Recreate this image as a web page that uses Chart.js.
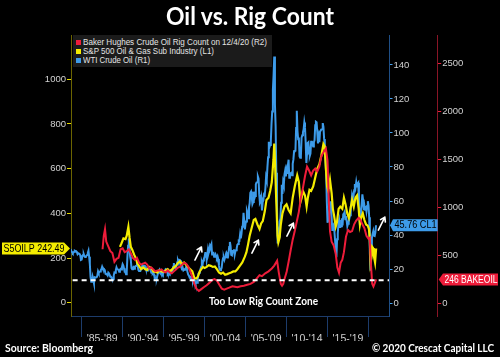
<!DOCTYPE html>
<html><head><meta charset="utf-8">
<script src="https://cdn.jsdelivr.net/npm/chart.js@4.4.0/dist/chart.umd.min.js"></script>
<style>
html,body{margin:0;padding:0;background:#000;}
#wrap{position:relative;width:500px;height:357px;overflow:hidden;background:#000;}
#c{position:absolute;left:0;top:0;}
.t{position:absolute;white-space:nowrap;display:inline-block;transform-origin:0 50%;}
#title{left:0;top:4px;width:500px;text-align:center;font:bold 24px Lato,sans-serif;line-height:24px;color:#fff;transform-origin:50% 50%;}
.foot{font:bold 11px Lato,sans-serif;line-height:11px;color:#fff;top:342px;}
#zone{font:bold 11px Lato,sans-serif;line-height:11px;color:#fff;top:295px;left:209px;}
#legend{position:absolute;left:73px;top:35px;width:199px;height:32px;background:#1b1b1b;}
.lg{font:8.5px "Liberation Sans",Arial,sans-serif;line-height:9px;color:#e4e4e4;left:83px;}
.sq{position:absolute;left:76px;width:5px;height:5px;}
</style></head>
<body>
<div id="wrap">
<canvas id="c" width="500" height="357"></canvas>
<div id="legend"></div>
<div class="sq" style="top:40px;background:#ee1c3a"></div>
<div class="sq" style="top:49px;background:#f4ec00"></div>
<div class="sq" style="top:58px;background:#3d9be9"></div>
<span class="t lg" id="lg1" style="top:38px">Baker Hughes Crude Oil Rig Count on 12/4/20 (R2)</span>
<span class="t lg" id="lg2" style="top:47px">S&amp;P 500 Oil &amp; Gas Sub Industry (L1)</span>
<span class="t lg" id="lg3" style="top:56px">WTI Crude Oil (R1)</span>
<div class="t" id="title">Oil vs. Rig Count</div>
<span class="t" id="zone">Too Low Rig Count Zone</span>
<span class="t foot" id="src" style="left:5px">Source: Bloomberg</span>
<span class="t foot" id="copy" style="left:372px">© 2020 Crescat Capital LLC</span>
</div>
<script>
// ---------------- DATA ----------------
// WTI crude oil (R1), monthly, starting Sep 1983
const wtiStartYear = 1983, wtiStartMonth = 8; // 0-based month (Sep)
const wti = [
31.7,30.4,29.9,29.3,
29.7,30.1,30.8,30.6,30.5,30.0,28.8,29.3,29.3,28.8,28.1,25.4,
25.6,27.3,28.2,28.8,27.6,27.1,27.3,27.8,28.3,29.5,30.8,27.2,
22.9,15.4,12.6,12.8,15.4,13.5,11.6,15.1,14.9,14.9,15.2,16.1,
18.7,17.7,18.3,18.6,19.4,20.0,21.4,20.3,19.5,19.8,18.9,17.2,
17.1,16.8,16.2,17.9,17.4,16.5,15.5,15.5,14.5,13.8,14.0,16.3,
18.0,17.8,19.4,21.0,20.0,20.0,19.6,18.4,19.6,20.1,19.8,21.1,
22.9,22.1,20.4,18.4,18.2,16.9,18.6,27.2,33.7,38.0,32.3,27.3,
25.2,20.5,19.9,20.8,21.2,20.2,21.4,21.7,21.9,23.2,22.5,19.5,
18.8,19.0,18.9,20.2,20.9,22.4,21.8,21.4,21.9,21.7,20.3,19.4,
19.1,20.1,20.3,20.3,19.9,19.1,17.9,18.0,17.5,18.1,16.7,14.5,
15.0,14.8,14.7,16.4,17.9,19.1,19.7,18.4,17.5,17.7,18.1,17.2,
18.0,18.5,18.6,19.9,19.7,18.4,17.3,17.9,18.0,17.4,18.0,19.0,
18.9,19.1,21.3,23.5,21.2,20.4,21.3,22.0,24.0,24.9,23.7,25.4,
25.2,22.2,21.0,19.7,20.8,19.2,19.6,19.9,19.8,21.3,20.2,18.3,
16.7,16.1,15.0,15.4,14.9,13.7,14.1,13.4,15.0,14.4,12.9,11.3,
12.5,12.0,14.7,17.3,17.8,17.9,20.1,21.3,23.9,22.6,25.0,26.1,
27.2,29.4,29.9,25.7,28.8,31.8,29.7,31.3,33.9,33.1,34.4,28.5,
29.6,29.6,27.2,27.4,28.6,27.6,26.5,27.5,25.9,22.2,19.7,19.3,
19.7,20.7,24.4,26.3,27.0,25.5,26.9,28.4,29.7,28.9,26.3,29.4,
32.9,35.9,33.6,28.3,28.1,30.7,30.8,31.6,28.3,30.3,31.1,32.2,
34.3,34.7,36.8,36.7,40.3,38.0,40.7,44.9,45.9,53.1,48.5,43.3,
46.8,48.0,54.3,53.0,49.8,56.3,58.7,64.9,65.6,62.4,58.3,59.4,
65.5,61.6,62.9,69.7,70.9,71.0,74.4,73.1,63.9,59.1,60.0,62.0,
54.5,59.3,60.4,63.9,63.5,67.5,74.1,72.4,79.9,85.8,94.8,91.7,
93.0,95.4,105.5,112.6,125.4,133.9,145.0,116.7,104.1,76.6,57.3,35.0,
41.7,39.1,47.9,49.7,59.0,69.6,64.2,71.1,69.4,75.7,78.0,74.5,
78.3,76.4,81.2,84.3,73.7,75.3,76.3,76.6,75.2,81.9,84.3,89.2,
89.5,89.6,102.9,113.0,101.3,96.3,97.3,86.3,85.5,86.3,97.2,98.6,
100.3,102.2,106.2,103.3,94.7,82.3,87.9,94.1,94.5,89.5,86.5,87.9,
94.8,95.3,92.9,92.0,94.5,95.8,104.6,106.6,106.3,100.5,93.9,97.6,
94.6,100.8,100.8,102.1,102.2,105.8,103.6,96.5,93.2,84.4,75.8,59.3,
47.2,50.6,47.8,54.5,59.3,59.8,50.9,42.9,45.5,46.2,42.4,37.2,
31.7,27.0,37.5,40.8,46.7,48.8,44.7,44.7,45.2,49.8,45.7,52.0,
52.5,53.5,49.3,51.1,48.5,45.2,46.6,48.0,49.8,51.6,56.6,57.9,
63.7,62.2,62.7,66.3,70.0,67.9,71.0,68.1,70.2,70.8,57.0,49.5,
51.4,54.9,58.2,63.9,60.8,54.7,57.4,54.8,57.0,54.0,57.0,59.9,
57.5,50.5,29.2,19.0,28.6,38.3,40.7,42.3,39.6,39.4,41.4,45.76
];

// Baker Hughes crude oil rig count (R2)
const rigYears = [
1987.55,1987.7,1987.85,1988.0,1988.25,1988.5,1988.75,1989.0,1989.25,1989.5,1989.75,1990.0,1990.25,1990.5,1990.75,
1991.0,1991.25,1991.5,1991.75,1992.0,1992.25,1992.5,1992.75,1993.0,1993.25,1993.5,1993.75,1994.0,1994.25,1994.5,1994.75,
1995.0,1995.25,1995.5,1995.75,1996.0,1996.25,1996.5,1996.75,1997.0,1997.25,1997.5,1997.75,1998.0,1998.25,1998.5,1998.75,
1999.0,1999.3,1999.6,1999.9,2000.25,2000.6,2000.9,2001.2,2001.5,2001.8,2002.1,2002.4,2002.7,2003.0,2003.4,2003.7,
2004.0,2004.4,2004.8,2005.2,2005.6,2006.0,2006.3,2006.7,2007.0,2007.4,2007.8,2008.2,2008.5,2008.85,2009.05,2009.3,2009.45,
2009.6,2009.75,2010.0,2010.25,2010.5,2010.75,2011.0,2011.25,2011.5,2011.75,2012.0,2012.25,2012.5,2012.75,2013.0,2013.25,
2013.5,2013.75,2014.0,2014.25,2014.5,2014.8,2015.0,2015.15,2015.3,2015.5,2015.75,2016.0,2016.2,2016.4,2016.6,2016.8,
2017.0,2017.25,2017.5,2017.75,2018.0,2018.25,2018.5,2018.8,2019.0,2019.25,2019.5,2019.75,2020.0,2020.15,2020.3,2020.45,
2020.6,2020.75,2020.93];
const rigValues = [
560,700,770,640,590,540,520,430,460,470,560,570,530,540,560,
520,470,450,470,420,400,410,420,400,360,370,350,330,340,340,350,
330,320,340,320,310,330,350,370,380,400,420,410,380,330,270,200,
150,125,145,165,185,210,240,250,235,190,150,140,150,160,175,170,
165,175,180,190,200,220,250,290,280,310,330,360,390,440,320,200,180,
200,250,320,430,550,660,750,850,950,1100,1200,1320,1420,1380,1330,1380,
1400,1370,1420,1530,1570,1609,1480,1100,750,640,600,510,370,316,420,450,
530,690,760,740,750,820,860,888,870,820,780,700,670,680,400,200,
172,205,246];

// S&P 500 Oil & Gas sub-industry (L1)
const spxYears = [
1989.67,1989.85,1990.1,1990.35,1990.5,1990.7,1990.85,1991.0,1991.2,1991.4,1991.6,1991.8,1992.0,1992.25,1992.5,1992.75,
1993.0,1993.25,1993.5,1993.75,1994.0,1994.25,1994.5,1994.75,1995.0,1995.25,1995.5,1995.75,1996.0,1996.25,1996.5,1996.75,
1997.0,1997.25,1997.5,1997.75,1998.0,1998.25,1998.5,1998.75,1999.0,1999.2,1999.4,1999.6,1999.8,2000.0,2000.25,2000.5,2000.75,
2001.0,2001.25,2001.5,2001.75,2002.0,2002.25,2002.5,2002.75,2003.0,2003.25,2003.5,2003.75,2004.0,2004.3,2004.6,2004.9,
2005.1,2005.3,2005.5,2005.75,2006.0,2006.2,2006.45,2006.7,2006.9,2007.1,2007.35,2007.55,2007.8,2008.0,2008.2,2008.4,2008.5,
2008.6,2008.75,2008.9,2009.0,2009.15,2009.3,2009.5,2009.75,2010.0,2010.25,2010.5,2010.75,2011.0,2011.3,2011.5,2011.7,2011.85,
2012.0,2012.25,2012.45,2012.6,2012.8,2013.0,2013.25,2013.5,2013.75,2014.0,2014.25,2014.5,2014.65,2014.8,2014.95,2015.1,2015.3,
2015.5,2015.65,2015.8,2016.0,2016.15,2016.35,2016.55,2016.8,2017.0,2017.2,2017.4,2017.6,2017.8,2018.0,2018.2,2018.4,2018.6,
2018.8,2018.95,2019.1,2019.3,2019.5,2019.7,2019.9,2020.05,2020.15,2020.25,2020.35,2020.45,2020.55,2020.65,2020.8,2020.93];
const spxValues = [
250,265,288,285,300,340,290,250,235,215,200,175,165,150,158,150,
147,160,155,140,138,135,145,140,138,145,150,140,148,158,165,178,
185,172,180,170,158,150,140,110,108,118,140,150,160,155,160,168,165,
160,162,150,135,130,135,125,128,132,135,140,140,150,165,180,205,
225,260,300,335,370,375,350,330,355,365,410,460,470,500,540,640,712,
620,450,300,270,290,350,400,430,440,415,400,470,520,570,540,450,470,
500,480,430,470,505,500,520,560,600,620,660,710,700,600,520,500,550,
490,420,390,340,360,420,430,420,470,440,400,380,420,460,430,470,480,
420,350,380,400,370,350,345,330,290,180,200,250,245,210,180,242.49];

// Other chart values
const zoneLevel = 100;               // dashed "too low" line, L1 units
const leftTicks = [0,200,400,600,800,1000];
const r1Ticks = [0,20,40,60,80,100,120,140];
const r2Ticks = [0,500,1000,1500,2000,2500];
const xBounds = [1985,1990,1995,2000,2005,2010,2015,2020];
const xLabels = ["'85-'89","'90-'94","'95-'99","'00-'04","'05-'09","'10-'14","'15-'19"];
const tagSpx = "S5OILP 242.49", tagWti = "45.76 CL1", tagRig = "246 BAKEOIL";
const arrowYears = [1998.82, 2005.77, 2010.04, 2021.2];
const arrowVals  = [191, 222, 298, 325]; // in L1 units

// ---------------- BUILD ----------------
const wtiPts = wti.map((v,i)=>({x: wtiStartYear + (wtiStartMonth + i)/12, y: v}));
const rigPts = rigYears.map((x,i)=>({x, y: rigValues[i]}));
const spxPts = spxYears.map((x,i)=>({x, y: spxValues[i]}));
const xTickVals = [];
xBounds.forEach((b,i)=>{ xTickVals.push(b); if(i<xLabels.length) xTickVals.push(b+2.5); });

Chart.defaults.font.family = '"Liberation Sans", Arial, sans-serif';

function drawTag(ctx, text, y, x0, x1, tipX, fill, color, maxW){
  const h = 12;
  ctx.save();
  ctx.fillStyle = fill;
  ctx.beginPath();
  if (tipX > x1) {
    ctx.moveTo(x0, y-h/2); ctx.lineTo(x1, y-h/2); ctx.lineTo(tipX, y); ctx.lineTo(x1, y+h/2); ctx.lineTo(x0, y+h/2);
  } else {
    ctx.moveTo(tipX, y); ctx.lineTo(x0, y-h/2); ctx.lineTo(x1, y-h/2); ctx.lineTo(x1, y+h/2); ctx.lineTo(x0, y+h/2);
  }
  ctx.closePath(); ctx.fill();
  ctx.font = '10px "Liberation Sans", Arial, sans-serif';
  ctx.fillStyle = color; ctx.textBaseline = 'middle'; ctx.textAlign = 'left';
  const w = ctx.measureText(text).width;
  const sx = Math.min(1, maxW / w);
  ctx.translate(x0 + 1.5, y+0.5); ctx.scale(sx, 1);
  ctx.fillText(text, 0, 0);
  ctx.restore();
}

const overlay = {
  id: 'overlay',
  afterDraw(chart){
    const ctx = chart.ctx, xs = chart.scales.x, yL = chart.scales.yL, y1 = chart.scales.yR1, y2 = chart.scales.yR2;
    const ca = chart.chartArea;
    ctx.save();
    ctx.strokeStyle = '#fff'; ctx.lineWidth = 1.6; ctx.lineCap = 'round';
    arrowYears.forEach((yr,i)=>{
      const tx = xs.getPixelForValue(yr), ty = yL.getPixelForValue(arrowVals[i]);
      const hx = tx + 6.5, hy = ty - 13;
      const ang = Math.atan2(hy-ty, hx-tx);
      ctx.beginPath(); ctx.moveTo(tx,ty); ctx.lineTo(hx,hy);
      [Math.PI*0.82, -Math.PI*0.82].forEach(a=>{
        ctx.moveTo(hx,hy); ctx.lineTo(hx + 5*Math.cos(ang+a), hy + 5*Math.sin(ang+a));
      });
      ctx.stroke();
    });
    ctx.restore();
    drawTag(ctx, tagSpx, yL.getPixelForValue(spxValues[spxValues.length-1]), 2, 64, ca.left-1, '#f4ec00', '#000', 61);
    drawTag(ctx, tagWti, y1.getPixelForValue(wti[wti.length-1]), 393, y2.left, ca.right+1, '#3d9be9', '#000', 42);
    drawTag(ctx, tagRig, y2.getPixelForValue(rigValues[rigValues.length-1]), 443, 498, y2.left+1, '#ee1c3a', '#fff', 53);
  }
};

const tickFont = {size: 9.5};
const plain = v => String(v);
new Chart(document.getElementById('c'), {
  type: 'line',
  data: { datasets: [
    {label:'Too Low Rig Count Zone', data:[{x:1983.9,y:zoneLevel},{x:2022.5,y:zoneLevel}], yAxisID:'yL', borderColor:'#ffffff', borderDash:[5,4], borderWidth:2},
    {label:'Baker Hughes Crude Oil Rig Count on 12/4/20 (R2)', data: rigPts, yAxisID:'yR2', borderColor:'#ee1c3a', borderWidth:2},
    {label:'S&P 500 Oil & Gas Sub Industry (L1)', data: spxPts, yAxisID:'yL', borderColor:'#f4ec00', borderWidth:2.2},
    {label:'WTI Crude Oil (R1)', data: wtiPts, yAxisID:'yR1', borderColor:'#3d9be9', borderWidth:2}
  ]},
  options: {
    responsive:false, animation:false, devicePixelRatio:1,
    layout:{padding:{top:35,left:0,right:0,bottom:16}},
    plugins:{legend:{display:false}, tooltip:{enabled:false}, title:{display:false}},
    elements:{point:{radius:0}, line:{tension:0, fill:false}},
    scales:{
      x:{type:'linear', position:'bottom', min:1983.7, max:2022.5,
        afterBuildTicks: s => { s.ticks = xTickVals.map(v=>({value:v})); },
        afterFit: s => { s.height = 25; },
        grid:{drawOnChartArea:false, tickLength:21, lineWidth:1,
          color: c => (c.tick && xBounds.includes(c.tick.value)) ? '#1d3c6b' : 'rgba(0,0,0,0)'},
        border:{color:'#1d3c6b', width:1},
        ticks:{autoSkip:false, maxRotation:0, minRotation:0, padding:-4, color:'#cfcfcf', font:{size:10.5},
          callback:(v,i)=> (i%2===1) ? xLabels[(i-1)/2] : ''}
      },
      yL:{type:'linear', position:'left', min:-59.5, max:1198,
        afterBuildTicks: s => { s.ticks = leftTicks.map(v=>({value:v})); },
        afterFit: s => { s.width = 71; },
        grid:{drawOnChartArea:false, tickLength:4, color:'#e6da00', tickColor:'#e6da00'},
        border:{color:'#6b6400', width:1},
        ticks:{padding:1, color:'#d2d2d2', font:tickFont, callback: plain}
      },
      yR1:{type:'linear', position:'right', min:-7.6, max:157.6,
        afterBuildTicks: s => { s.ticks = r1Ticks.map(v=>({value:v})); },
        afterFit: s => { s.width = 48.7; },
        grid:{drawOnChartArea:false, tickLength:3.5, color:'#4aa3ef', tickColor:'#4aa3ef'},
        border:{color:'#1f4f86', width:1},
        ticks:{padding:1, color:'#d2d2d2', font:tickFont, callback: plain}
      },
      yR2:{type:'linear', position:'right', min:-135, max:2792,
        afterBuildTicks: s => { s.ticks = r2Ticks.map(v=>({value:v})); },
        afterFit: s => { s.width = 62.3; },
        grid:{drawOnChartArea:false, tickLength:3.5, color:'#e8203c', tickColor:'#e8203c'},
        border:{color:'#8a1526', width:1},
        ticks:{padding:1, color:'#d2d2d2', font:tickFont, callback: plain}
      }
    }
  },
  plugins:[overlay]
});

function fit(id, w){
  const el = document.getElementById(id);
  const r = el.getBoundingClientRect().width;
  if (r > 0) el.style.transform = 'scaleX(' + (w / r) + ')';
}
function fitTitle(w){
  const el = document.getElementById('title');
  const sp = document.createElement('span'); sp.textContent = el.textContent; sp.style.font = getComputedStyle(el).font;
  sp.style.position='absolute'; sp.style.visibility='hidden'; document.body.appendChild(sp);
  const r = sp.getBoundingClientRect().width; sp.remove();
  el.style.transform = 'scaleX(' + (w / r) + ')';
}
fitTitle(168);
fit('zone', 109); fit('src', 88); fit('copy', 122);
fit('lg1', 184); fit('lg2', 131); fit('lg3', 67);
</script>
</body></html>
